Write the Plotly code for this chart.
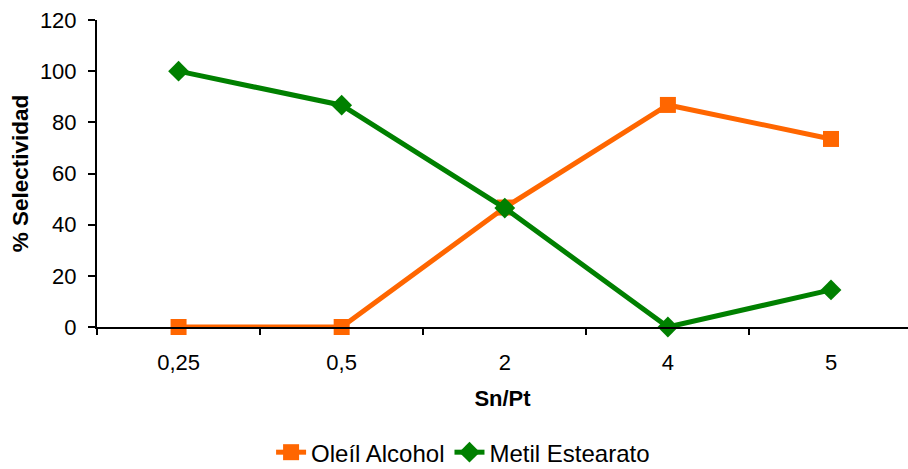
import plotly.graph_objects as go

# Sn/Pt ratio categories and selectivities (%)
ratios = ["0,25", "0,5", "2", "4", "5"]
oleil_alcohol = [0, 0, 46.7, 86.8, 73.5]
metil_estearato = [100, 86.7, 46.5, 0, 14.5]
y_ticks = [0, 20, 40, 60, 80, 100, 120]

ORANGE = "#FF6600"
GREEN = "#008000"
FONT = "Liberation Sans, Arial, sans-serif"

fig = go.Figure()
fig.add_trace(go.Scatter(
    x=ratios, y=oleil_alcohol, name="Oleíl Alcohol", mode="lines+markers",
    line=dict(color=ORANGE, width=5),
    marker=dict(symbol="square", size=16, color=ORANGE),
    cliponaxis=False,
))
fig.add_trace(go.Scatter(
    x=ratios, y=metil_estearato, name="Metil Estearato", mode="lines+markers",
    line=dict(color=GREEN, width=5),
    marker=dict(symbol="diamond", size=16, color=GREEN),
    cliponaxis=False,
))

fig.update_layout(
    width=908, height=469,
    margin=dict(l=97, r=0, t=20, b=142),
    paper_bgcolor="white", plot_bgcolor="white",
    font=dict(family=FONT, size=22, color="black"),
    showlegend=True,
    legend=dict(
        orientation="h", xref="container", x=0.51, xanchor="center",
        yref="container", y=0.035, yanchor="middle",
        font=dict(size=24), tracegroupgap=0,
    ),
)
fig.update_xaxes(
    type="category", range=[-0.5, 4.472],
    showline=True, linecolor="black", linewidth=2,
    ticks="outside", tickson="boundaries", ticklen=6, tickwidth=1.5, tickcolor="black",
    ticklabelstandoff=15,
    showgrid=False, zeroline=False,
    tickfont=dict(size=22),
    title=dict(text="<b>Sn/Pt</b>", font=dict(size=22), standoff=16),
)
fig.update_yaxes(
    range=[0, 120], tickvals=y_ticks,
    showline=True, linecolor="black", linewidth=2,
    ticks="outside", ticklen=7, tickwidth=1.5, tickcolor="black",
    ticklabelstandoff=7,
    showgrid=False, zeroline=False,
    tickfont=dict(size=22),
    title=dict(text="<b>% Selectividad</b>", font=dict(size=22.5), standoff=5),
)

fig.write_html("out.html")
